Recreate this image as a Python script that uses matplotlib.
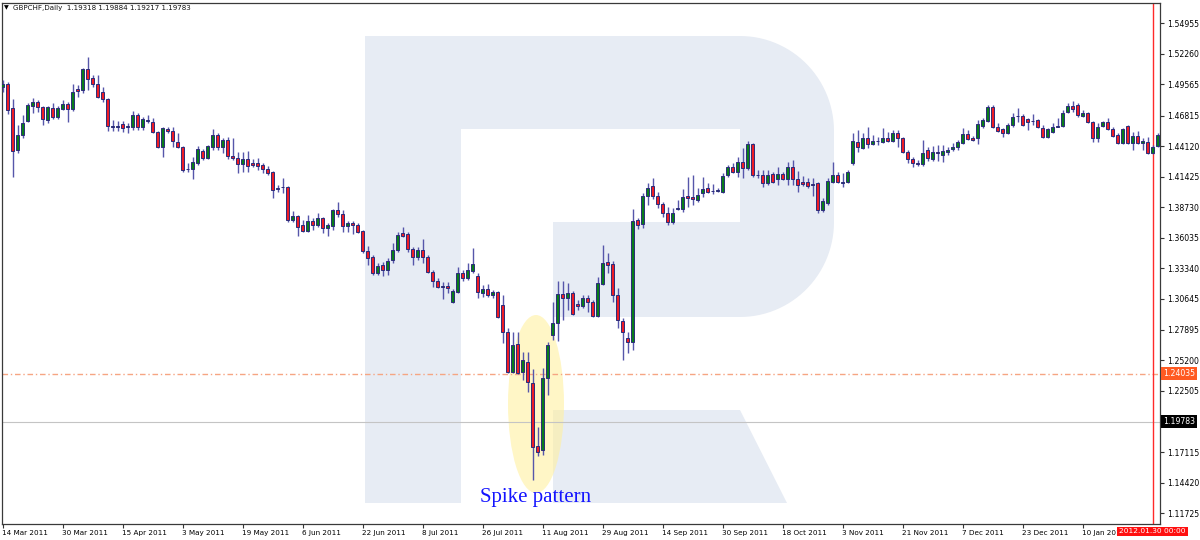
import matplotlib
matplotlib.use("Agg")
import matplotlib.pyplot as plt
import matplotlib.transforms as mtransforms
from matplotlib.patches import Polygon, Ellipse
import numpy as np

# ---------------- data ----------------
header_text = "GBPCHF,Daily  1.19318 1.19884 1.19217 1.19783"
date_labels = ["14 Mar 2011", "30 Mar 2011", "15 Apr 2011", "3 May 2011", "19 May 2011",
               "6 Jun 2011", "22 Jun 2011", "8 Jul 2011", "26 Jul 2011", "11 Aug 2011",
               "29 Aug 2011", "14 Sep 2011", "30 Sep 2011", "18 Oct 2011", "3 Nov 2011",
               "21 Nov 2011", "7 Dec 2011", "23 Dec 2011", "10 Jan 2012"]
bars_per_label = 12
price_ticks = [1.54955, 1.52260, 1.49565, 1.46815, 1.44120, 1.41425, 1.38730, 1.36035,
               1.33340, 1.30645, 1.27895, 1.25200, 1.22505, 1.17115, 1.14420, 1.11725]
level_orange = 1.24035
level_bid = 1.19783
marker_bar = 230
marker_label = "2012.01.30 00:00"
annotation_text = "Spike pattern"

opens = [
 1.4934, 1.4961, 1.4749, 1.4378, 1.4510, 1.4634, 1.4766, 1.4802, 1.4758, 1.4643,
 1.4749, 1.4669, 1.4740, 1.4784, 1.4740, 1.4916, 1.4908, 1.5093, 1.5014, 1.4961,
 1.4890, 1.4828, 1.4581, 1.4585, 1.4607, 1.4585, 1.4581, 1.4687, 1.4581, 1.4634,
 1.4625, 1.4537, 1.4404, 1.4563, 1.4546, 1.4449, 1.4404, 1.4206, 1.4210, 1.4263,
 1.4369, 1.4307, 1.4404, 1.4510, 1.4404, 1.4466, 1.4325, 1.4307, 1.4254, 1.4298,
 1.4263, 1.4263, 1.4246, 1.4210, 1.4184, 1.4038, 1.4047, 1.4051, 1.3760, 1.3795,
 1.3716, 1.3663, 1.3751, 1.3716, 1.3778, 1.3689, 1.3707, 1.3848, 1.3813, 1.3707,
 1.3733, 1.3716, 1.3663, 1.3486, 1.3433, 1.3292, 1.3363, 1.3319, 1.3407, 1.3495,
 1.3645, 1.3636, 1.3504, 1.3433, 1.3495, 1.3433, 1.3301, 1.3221, 1.3168, 1.3177,
 1.3036, 1.3124, 1.3292, 1.3248, 1.3310, 1.3266, 1.3116, 1.3151, 1.3098, 1.3124,
 1.3010, 1.2771, 1.2418, 1.2665, 1.2418, 1.2506, 1.2321, 1.1765, 1.1730, 1.2365,
 1.2745, 1.2851, 1.3107, 1.3071, 1.3116, 1.3018, 1.3001, 1.3071, 1.3036, 1.2913,
 1.3195, 1.3389, 1.3372, 1.3098, 1.2868, 1.2718, 1.2683, 1.3760, 1.3725, 1.3972,
 1.4060, 1.3972, 1.3901, 1.3822, 1.3742, 1.3853, 1.3857, 1.3972, 1.3963, 1.3937,
 1.3998, 1.4042, 1.4012, 1.4020, 1.4007, 1.4157, 1.4228, 1.4184, 1.4272, 1.4219,
 1.4431, 1.4153, 1.4157, 1.4087, 1.4166, 1.4122, 1.4166, 1.4122, 1.4228, 1.4122,
 1.4095, 1.4095, 1.4073, 1.4087, 1.3848, 1.3910, 1.4095, 1.4157, 1.4091, 1.4095,
 1.4263, 1.4449, 1.4396, 1.4484, 1.4431, 1.4453, 1.4449, 1.4484, 1.4457, 1.4528,
 1.4484, 1.4360, 1.4298, 1.4263, 1.4254, 1.4378, 1.4298, 1.4360, 1.4334, 1.4360,
 1.4387, 1.4404, 1.4440, 1.4519, 1.4484, 1.4484, 1.4590, 1.4634, 1.4758, 1.4581,
 1.4563, 1.4528, 1.4599, 1.4674, 1.4678, 1.4652, 1.4634, 1.4643, 1.4572, 1.4493,
 1.4537, 1.4585, 1.4590, 1.4713, 1.4766, 1.4775, 1.4678, 1.4705, 1.4625, 1.4484,
 1.4590, 1.4625, 1.4563, 1.4510, 1.4440, 1.4590, 1.4440, 1.4501, 1.4440, 1.4449,
 1.4351, 1.4413]
highs = [
 1.4996, 1.4978, 1.4828, 1.4599, 1.4687, 1.4793, 1.4837, 1.4819, 1.4766, 1.4766,
 1.4793, 1.4766, 1.4819, 1.4802, 1.4961, 1.4952, 1.5102, 1.5199, 1.5040, 1.5040,
 1.4934, 1.4837, 1.4643, 1.4634, 1.4634, 1.4616, 1.4722, 1.4705, 1.4669, 1.4687,
 1.4660, 1.4546, 1.4581, 1.4581, 1.4581, 1.4528, 1.4413, 1.4263, 1.4316, 1.4413,
 1.4387, 1.4422, 1.4563, 1.4528, 1.4484, 1.4493, 1.4484, 1.4360, 1.4360, 1.4369,
 1.4298, 1.4307, 1.4263, 1.4237, 1.4193, 1.4069, 1.4131, 1.4060, 1.3839, 1.3804,
 1.3760, 1.3804, 1.3778, 1.3822, 1.3786, 1.3733, 1.3857, 1.3919, 1.3848, 1.3751,
 1.3751, 1.3733, 1.3672, 1.3530, 1.3451, 1.3380, 1.3389, 1.3424, 1.3557, 1.3654,
 1.3698, 1.3654, 1.3522, 1.3522, 1.3592, 1.3451, 1.3319, 1.3248, 1.3213, 1.3213,
 1.3151, 1.3345, 1.3319, 1.3380, 1.3513, 1.3292, 1.3186, 1.3195, 1.3142, 1.3133,
 1.3098, 1.2807, 1.2771, 1.2771, 1.2595, 1.2595, 1.2445, 1.1933, 1.2454, 1.2683,
 1.3036, 1.3221, 1.3221, 1.3204, 1.3133, 1.3054, 1.3098, 1.3098, 1.3054, 1.3257,
 1.3539, 1.3469, 1.3398, 1.3160, 1.2895, 1.2771, 1.3857, 1.3778, 1.3998, 1.4087,
 1.4131, 1.4007, 1.3919, 1.3875, 1.3866, 1.3937, 1.4034, 1.4140, 1.4157, 1.4042,
 1.4140, 1.4087, 1.4078, 1.4042, 1.4175, 1.4246, 1.4263, 1.4316, 1.4396, 1.4457,
 1.4440, 1.4201, 1.4201, 1.4201, 1.4184, 1.4228, 1.4184, 1.4272, 1.4290, 1.4193,
 1.4148, 1.4131, 1.4131, 1.4095, 1.3954, 1.4131, 1.4272, 1.4184, 1.4175, 1.4201,
 1.4528, 1.4554, 1.4528, 1.4581, 1.4510, 1.4493, 1.4572, 1.4537, 1.4554, 1.4554,
 1.4493, 1.4378, 1.4316, 1.4290, 1.4466, 1.4404, 1.4413, 1.4422, 1.4422, 1.4404,
 1.4440, 1.4466, 1.4572, 1.4554, 1.4501, 1.4643, 1.4660, 1.4775, 1.4775, 1.4616,
 1.4572, 1.4616, 1.4705, 1.4749, 1.4696, 1.4660, 1.4696, 1.4652, 1.4599, 1.4572,
 1.4616, 1.4660, 1.4731, 1.4793, 1.4811, 1.4793, 1.4731, 1.4713, 1.4634, 1.4616,
 1.4634, 1.4660, 1.4581, 1.4528, 1.4572, 1.4599, 1.4537, 1.4546, 1.4484, 1.4493,
 1.4422, 1.4528]
lows = [
 1.4890, 1.4696, 1.4140, 1.4351, 1.4484, 1.4625, 1.4705, 1.4713, 1.4599, 1.4616,
 1.4652, 1.4652, 1.4731, 1.4625, 1.4722, 1.4846, 1.4881, 1.4908, 1.4934, 1.4837,
 1.4802, 1.4546, 1.4546, 1.4546, 1.4537, 1.4528, 1.4554, 1.4554, 1.4554, 1.4616,
 1.4528, 1.4396, 1.4316, 1.4528, 1.4404, 1.4396, 1.4184, 1.4184, 1.4122, 1.4246,
 1.4290, 1.4298, 1.4378, 1.4378, 1.4351, 1.4298, 1.4290, 1.4175, 1.4184, 1.4184,
 1.4228, 1.4201, 1.4175, 1.4157, 1.3954, 1.4007, 1.3998, 1.3742, 1.3742, 1.3619,
 1.3654, 1.3654, 1.3672, 1.3698, 1.3645, 1.3619, 1.3672, 1.3786, 1.3654, 1.3654,
 1.3636, 1.3645, 1.3469, 1.3363, 1.3274, 1.3274, 1.3266, 1.3274, 1.3380, 1.3477,
 1.3610, 1.3477, 1.3363, 1.3407, 1.3380, 1.3292, 1.3168, 1.3160, 1.3063, 1.3116,
 1.3027, 1.3116, 1.3221, 1.3230, 1.3292, 1.3071, 1.3080, 1.3080, 1.3071, 1.2895,
 1.2674, 1.2409, 1.2409, 1.2400, 1.2348, 1.2242, 1.1465, 1.1677, 1.1685, 1.2215,
 1.2701, 1.2692, 1.2877, 1.2965, 1.2921, 1.2965, 1.2983, 1.2948, 1.2904, 1.2904,
 1.3186, 1.3292, 1.3036, 1.2807, 1.2524, 1.2586, 1.2612, 1.3680, 1.3689, 1.3892,
 1.3945, 1.3866, 1.3786, 1.3716, 1.3725, 1.3848, 1.3831, 1.3875, 1.3892, 1.3919,
 1.3963, 1.3998, 1.3989, 1.4007, 1.3998, 1.4140, 1.4175, 1.4140, 1.4131, 1.4201,
 1.4140, 1.4131, 1.4051, 1.4069, 1.4087, 1.4069, 1.4113, 1.4069, 1.4069, 1.4007,
 1.4060, 1.4042, 1.3972, 1.3822, 1.3831, 1.3892, 1.4087, 1.4087, 1.4051, 1.4087,
 1.4246, 1.4360, 1.4387, 1.4396, 1.4422, 1.4422, 1.4440, 1.4449, 1.4449, 1.4404,
 1.4351, 1.4263, 1.4228, 1.4237, 1.4237, 1.4281, 1.4281, 1.4281, 1.4272, 1.4334,
 1.4369, 1.4378, 1.4431, 1.4466, 1.4457, 1.4431, 1.4572, 1.4625, 1.4572, 1.4537,
 1.4493, 1.4519, 1.4581, 1.4625, 1.4590, 1.4554, 1.4599, 1.4572, 1.4484, 1.4484,
 1.4528, 1.4581, 1.4581, 1.4705, 1.4713, 1.4669, 1.4669, 1.4616, 1.4449, 1.4449,
 1.4581, 1.4554, 1.4493, 1.4431, 1.4431, 1.4431, 1.4378, 1.4431, 1.4378, 1.4343,
 1.4343, 1.4404]
closes = [
 1.4961, 1.4731, 1.4369, 1.4510, 1.4616, 1.4775, 1.4802, 1.4758, 1.4652, 1.4758,
 1.4669, 1.4749, 1.4784, 1.4740, 1.4890, 1.4899, 1.5093, 1.5005, 1.4961, 1.4846,
 1.4828, 1.4590, 1.4590, 1.4590, 1.4572, 1.4590, 1.4687, 1.4581, 1.4652, 1.4643,
 1.4537, 1.4404, 1.4572, 1.4546, 1.4457, 1.4404, 1.4201, 1.4210, 1.4272, 1.4387,
 1.4307, 1.4413, 1.4510, 1.4404, 1.4466, 1.4325, 1.4307, 1.4254, 1.4298, 1.4237,
 1.4246, 1.4237, 1.4210, 1.4175, 1.4025, 1.4042, 1.4051, 1.3760, 1.3795, 1.3698,
 1.3663, 1.3751, 1.3716, 1.3778, 1.3689, 1.3716, 1.3848, 1.3813, 1.3707, 1.3733,
 1.3716, 1.3654, 1.3486, 1.3424, 1.3292, 1.3354, 1.3319, 1.3398, 1.3495, 1.3627,
 1.3619, 1.3504, 1.3433, 1.3495, 1.3433, 1.3301, 1.3221, 1.3168, 1.3173, 1.3160,
 1.3133, 1.3292, 1.3248, 1.3319, 1.3372, 1.3124, 1.3151, 1.3098, 1.3124, 1.2904,
 1.2771, 1.2418, 1.2657, 1.2409, 1.2524, 1.2330, 1.1756, 1.1712, 1.2365, 1.2657,
 1.2851, 1.3107, 1.3071, 1.3116, 1.2930, 1.3001, 1.3071, 1.3036, 1.2913, 1.3204,
 1.3380, 1.3363, 1.3098, 1.2877, 1.2771, 1.2683, 1.3751, 1.3716, 1.3972, 1.4042,
 1.3972, 1.3901, 1.3822, 1.3742, 1.3822, 1.3862, 1.3963, 1.3954, 1.3945, 1.3981,
 1.4034, 1.4007, 1.4016, 1.4025, 1.4148, 1.4228, 1.4184, 1.4272, 1.4219, 1.4431,
 1.4157, 1.4157, 1.4087, 1.4157, 1.4095, 1.4166, 1.4122, 1.4228, 1.4122, 1.4069,
 1.4082, 1.4060, 1.4078, 1.3848, 1.3928, 1.4104, 1.4157, 1.4095, 1.4095, 1.4184,
 1.4457, 1.4404, 1.4484, 1.4431, 1.4457, 1.4457, 1.4484, 1.4457, 1.4528, 1.4484,
 1.4360, 1.4298, 1.4263, 1.4250, 1.4351, 1.4307, 1.4360, 1.4351, 1.4369, 1.4378,
 1.4404, 1.4449, 1.4519, 1.4475, 1.4466, 1.4607, 1.4643, 1.4758, 1.4581, 1.4546,
 1.4528, 1.4599, 1.4669, 1.4678, 1.4599, 1.4625, 1.4638, 1.4581, 1.4493, 1.4563,
 1.4581, 1.4590, 1.4705, 1.4766, 1.4740, 1.4687, 1.4705, 1.4625, 1.4484, 1.4581,
 1.4625, 1.4563, 1.4501, 1.4440, 1.4563, 1.4440, 1.4501, 1.4440, 1.4457, 1.4351,
 1.4404, 1.4510]

# ---------------- figure ----------------
W, H = 1200, 540
fig = plt.figure(figsize=(W / 100, H / 100), dpi=100)
fig.patch.set_facecolor("white")
ax = fig.add_axes([1.5 / W, 16 / H, (1160 - 1.5) / W, (524 - 3) / H])
ax.set_facecolor("white")

# pixel transform (x right, y down) for decorations
px = mtransforms.Affine2D().scale(1 / W, -1 / H).translate(0, 1) + fig.transFigure

# watermark "R" logo
logo_c = "#e7ecf4"
ax.add_patch(Polygon([(365, 36), (461, 36), (461, 503), (365, 503)], closed=True,
                     transform=px, fc=logo_c, ec="none", zorder=0.5, clip_on=False))
t1 = np.linspace(-np.pi / 2, 0, 30)
t2 = np.linspace(0, np.pi / 2, 30)
bowl = [(457, 36)]
bowl += [(740 + 94 * np.cos(t), 131 + 95 * np.sin(t)) for t in t1]
bowl += [(740 + 94 * np.cos(t), 222 + 95 * np.sin(t)) for t in t2]
bowl += [(553, 317), (553, 222), (740, 222), (740, 129), (457, 129)]
ax.add_patch(Polygon(bowl, closed=True, transform=px, fc=logo_c, ec="none",
                     zorder=0.5, clip_on=False))
ax.add_patch(Polygon([(553, 410), (740, 410), (787, 503), (553, 503)], closed=True,
                     transform=px, fc=logo_c, ec="none", zorder=0.5, clip_on=False))

# highlight ellipse
ax.add_patch(Ellipse((536, 404), 56, 178, transform=px, fc="#fff1a0", ec="none",
                     alpha=0.6, zorder=1, clip_on=False))

# horizontal / vertical lines
ax.axhline(level_orange, color="#f6a583", lw=1.0, ls=(0, (4, 2, 1, 2)), zorder=2)
ax.axhline(level_bid, color="#c4c4c4", lw=0.8, zorder=2)
ax.axvline(marker_bar, color="#ff2a2a", lw=1.0, zorder=2)

# candles
O = np.array(opens); Hh = np.array(highs); L = np.array(lows); C = np.array(closes)
x = np.arange(len(O))
bull = C >= O
body_bottom = np.minimum(O, C)
body_h = np.maximum(np.abs(C - O), 0.00005)
colors = np.where(bull, "#0b7d1a", "#ee1c25")
ax.vlines(x, L, Hh, color="#5656aa", lw=1.0, zorder=3)
ax.bar(x, body_h, bottom=body_bottom, width=0.56, color=colors,
       edgecolor="#2b2b7a", linewidth=0.7, zorder=4)

# axes limits and ticks
ax.set_xlim(-0.2, 231.5)
ax.set_ylim(1.10763, 1.56756)
ax.yaxis.tick_right()
ax.set_yticks(price_ticks)
ax.set_yticklabels([f"{v:.5f}" for v in price_ticks])
ax.set_xticks(np.arange(len(date_labels)) * bars_per_label)
ax.set_xticklabels(date_labels)
for lab in ax.get_xticklabels():
    lab.set_horizontalalignment("left")
ax.tick_params(axis="both", direction="out", length=3, width=0.8, colors="#333333",
               labelcolor="black", labelsize=5.6, pad=2)
ax.tick_params(axis="x", pad=1.5, labelsize=5.2)
for s in ax.spines.values():
    s.set_color("#3a3a3a")
    s.set_linewidth(0.9)

# price boxes on the right
ax.annotate(f"{level_orange:.5f}", xy=(1, level_orange), xycoords=("axes fraction", "data"),
            xytext=(2.2, 0), textcoords="offset points", ha="left", va="center",
            fontsize=5.6, color="white", annotation_clip=False, zorder=10,
            bbox=dict(boxstyle="square,pad=0.25", fc="#ff5a22", ec="none"))
ax.annotate(f"{level_bid:.5f}", xy=(1, level_bid), xycoords=("axes fraction", "data"),
            xytext=(2.2, 0), textcoords="offset points", ha="left", va="center",
            fontsize=5.6, color="white", annotation_clip=False, zorder=10,
            bbox=dict(boxstyle="square,pad=0.25", fc="black", ec="none"))
# date box at the bottom
ax.annotate(marker_label, xy=(marker_bar, 0), xycoords=("data", "axes fraction"),
            xytext=(0, -3.2), textcoords="offset points", ha="center", va="top",
            fontsize=5.4, color="white", annotation_clip=False, zorder=10,
            bbox=dict(boxstyle="square,pad=0.25", fc="#ff1010", ec="none"))

# header text
fig.text(4, 8, "\u25bc", transform=px, fontsize=4.5, va="center", ha="left",
         family="DejaVu Sans", color="black")
fig.text(13, 8, header_text, transform=px, fontsize=5.1, va="center", ha="left",
         family="DejaVu Sans", color="#111111")

# annotation text
fig.text(480, 502, annotation_text, transform=px, fontsize=15, ha="left",
         va="baseline", family="Liberation Serif", color="#1414ff")

fig.savefig("out.png", dpi=100)
